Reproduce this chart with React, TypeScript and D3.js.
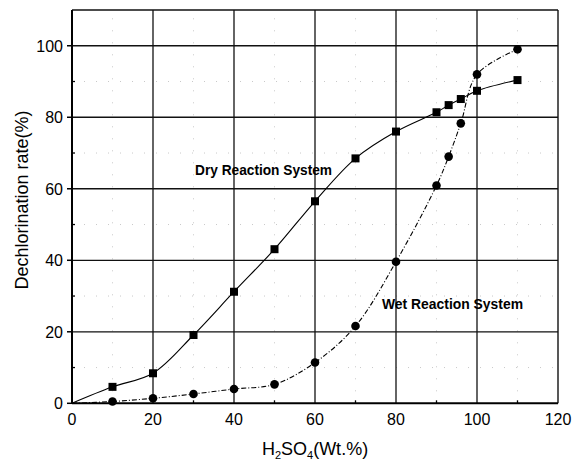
import React from "react";
import * as d3 from "d3";

const dryX = [0, 10, 20, 30, 40, 50, 60, 70, 80, 90, 93, 96, 100, 110];
const dryY = [0, 4.6, 8.4, 19.1, 31.2, 43.1, 56.5, 68.5, 76, 81.4, 83.4, 85.1, 87.4, 90.4];
const wetX = [0, 10, 20, 30, 40, 50, 60, 70, 80, 90, 93, 96, 100, 110];
const wetY = [0, 0.5, 1.4, 2.6, 4.0, 5.3, 11.4, 21.6, 39.6, 60.9, 69, 78.3, 92, 99];
const xTicks = [0, 20, 40, 60, 80, 100, 120];
const yTicks = [0, 20, 40, 60, 80, 100];
const xMinor = [10, 30, 50, 70, 90, 110];
const yMinor = [10, 30, 50, 70, 90];
const xGrid = [20, 40, 60, 80, 100];
const yGrid = [20, 40, 60, 80, 100];

export default function App() {
  const W = 572, H = 463;
  const x = d3.scaleLinear().domain([0, 120]).range([72, 558]);
  const y = d3.scaleLinear().domain([0, 110]).range([403.3, 10]);
  const font = "'Liberation Sans', Arial, sans-serif";
  const dry = dryX.map((v, i) => [v, dryY[i]] as [number, number]);
  const wet = wetX.map((v, i) => [v, wetY[i]] as [number, number]);
  const line = d3.line<[number, number]>().x(d => x(d[0])).y(d => y(d[1])).curve(d3.curveCatmullRom.alpha(0.5));
  const [x0, x1] = x.range();
  const [y0, y1] = y.range();
  return (
    <div style={{ position: "fixed", left: 0, top: 0 }}>
      <svg width={W} height={H} style={{ display: "block", background: "#fff" }}>
        {xMinor.map(t => (
          <line key={"xm" + t} x1={x(t)} x2={x(t)} y1={y0} y2={y1} stroke="#bbb" strokeWidth={0.8} strokeDasharray="1,11" />
        ))}
        {yMinor.map(t => (
          <line key={"ym" + t} x1={x0} x2={x1} y1={y(t)} y2={y(t)} stroke="#bbb" strokeWidth={0.8} strokeDasharray="1,11" />
        ))}
        {xGrid.map(t => (
          <line key={"xg" + t} x1={x(t)} x2={x(t)} y1={y0} y2={y1} stroke="#111" strokeWidth={1.3} />
        ))}
        {yGrid.map(t => (
          <line key={"yg" + t} x1={x0} x2={x1} y1={y(t)} y2={y(t)} stroke="#111" strokeWidth={1.3} />
        ))}
        <line x1={x0} x2={x1} y1={y1} y2={y1} stroke="#111" strokeWidth={1.4} />
        <line x1={x1} x2={x1} y1={y0} y2={y1} stroke="#111" strokeWidth={1.4} />
        <line x1={x0} x2={x1} y1={y0} y2={y0} stroke="#000" strokeWidth={2} />
        <line x1={x0} x2={x0} y1={y0} y2={y1} stroke="#000" strokeWidth={2} />
        {yTicks.map(t => (
          <line key={"yt" + t} x1={x0 - 5} x2={x0} y1={y(t)} y2={y(t)} stroke="#000" strokeWidth={1.5} />
        ))}
        {yMinor.map(t => (
          <line key={"ymt" + t} x1={x0} x2={x0 + 3} y1={y(t)} y2={y(t)} stroke="#000" strokeWidth={1.3} />
        ))}
        {xMinor.map(t => (
          <line key={"xmt" + t} x1={x(t)} x2={x(t)} y1={y0} y2={y0 - 3} stroke="#000" strokeWidth={1.3} />
        ))}
        {xTicks.map(t => (
          <text key={"xl" + t} x={x(t)} y={y0 + 22} textAnchor="middle" fontFamily={font} fontSize={16} fill="#000">{t}</text>
        ))}
        {yTicks.map(t => (
          <text key={"yl" + t} x={x0 - 9} y={y(t) + 6} textAnchor="end" fontFamily={font} fontSize={16} fill="#000">{t}</text>
        ))}
        <text x={315} y={455} textAnchor="middle" fontFamily={font} fontSize={18} fill="#000">
          H<tspan dy={4} fontSize={11}>2</tspan><tspan dy={-4}>SO</tspan><tspan dy={4} fontSize={11}>4</tspan><tspan dy={-4}>(Wt.%)</tspan>
        </text>
        <text transform="translate(28,200) rotate(-90)" textAnchor="middle" fontFamily={font} fontSize={18} fill="#000">
          Dechlorination rate(%)
        </text>
        <path d={line(dry) || ""} fill="none" stroke="#000" strokeWidth={1.1} />
        <path d={line(wet) || ""} fill="none" stroke="#000" strokeWidth={1.1} strokeDasharray="5,2,1,2" />
        {dry.filter(d => d[0] > 0).map(d => (
          <rect key={"ds" + d[0]} x={x(d[0]) - 4} y={y(d[1]) - 4} width={8} height={8} fill="#000" />
        ))}
        {wet.filter(d => d[0] > 0).map(d => (
          <circle key={"wc" + d[0]} cx={x(d[0])} cy={y(d[1])} r={4.3} fill="#000" />
        ))}
        <text x={195} y={175} fontFamily={font} fontSize={15.5} fontWeight="bold" fill="#000" textLength={137} lengthAdjust="spacingAndGlyphs">Dry Reaction System</text>
        <text x={382} y={309} fontFamily={font} fontSize={15.5} fontWeight="bold" fill="#000" textLength={141} lengthAdjust="spacingAndGlyphs">Wet Reaction System</text>
      </svg>
    </div>
  );
}
